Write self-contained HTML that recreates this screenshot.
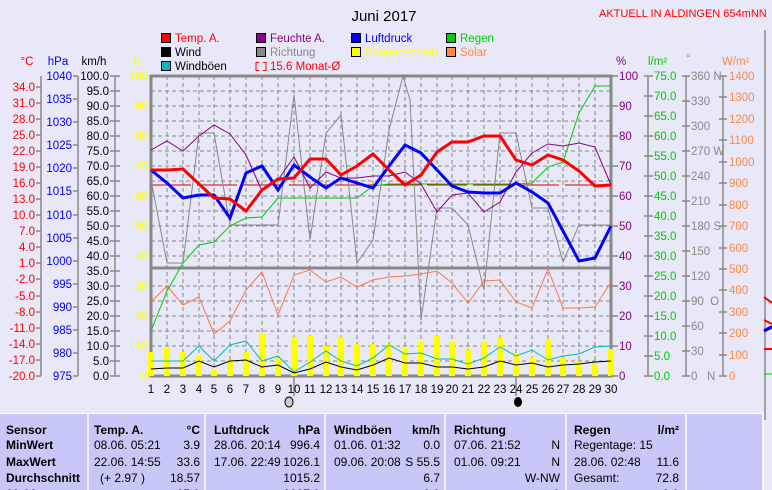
<!DOCTYPE html>
<html><head><meta charset="utf-8"><style>
body{margin:0;background:#e8e8f8;}
svg{display:block;font-family:"Liberation Sans",sans-serif;}
</style></head><body>
<svg width="772" height="490" viewBox="0 0 772 490" xmlns="http://www.w3.org/2000/svg">
<rect width="772" height="490" fill="#e8e8f8"/>
<text x="384" y="21" font-size="15" text-anchor="middle" fill="#000">Juni 2017</text>
<text x="599" y="17" font-size="11" fill="#f00">AKTUELL IN ALDINGEN 654mNN</text>
<!-- legend -->
<g font-size="11.5">
<rect x="161.5" y="33.5" width="9" height="9" fill="#f00" stroke="#000"/><text x="175" y="42" fill="#f00">Temp. A.</text>
<rect x="161.5" y="47.5" width="9" height="9" fill="#000" stroke="#000"/><text x="175" y="56" fill="#000">Wind</text>
<rect x="161.5" y="61.5" width="9" height="9" fill="#0bb" stroke="#000"/><text x="175" y="70" fill="#000">Windböen</text>
<rect x="256.5" y="33.5" width="9" height="9" fill="#808" stroke="#000"/><text x="270" y="42" fill="#808">Feuchte A.</text>
<rect x="256.5" y="47.5" width="9" height="9" fill="#888" stroke="#000"/><text x="270" y="56" fill="#888">Richtung</text>
<path d="M259 62.5h-3v8h3 M263 62.5h3v8h-3" stroke="#f00" fill="none"/><text x="270" y="70" fill="#f00">15.6 Monat-Ø</text>
<rect x="351.5" y="33.5" width="9" height="9" fill="#00f" stroke="#000"/><text x="365" y="42" fill="#00f">Luftdruck</text>
<rect x="351.5" y="47.5" width="9" height="9" fill="#ff0" stroke="#000"/><text x="365" y="56" fill="#ff0">Sonnenschein</text>
<rect x="446.5" y="33.5" width="9" height="9" fill="#0c0" stroke="#000"/><text x="460" y="42" fill="#0c0">Regen</text>
<rect x="446.5" y="47.5" width="9" height="9" fill="#f84" stroke="#000"/><text x="460" y="56" fill="#f84">Solar</text>
</g>
<!-- axis titles -->
<g font-size="11.5">
<text x="27" y="65" fill="#f00" text-anchor="middle">°C</text>
<text x="58" y="65" fill="#00f" text-anchor="middle">hPa</text>
<text x="94" y="65" fill="#000" text-anchor="middle">km/h</text>
<text x="137" y="65" fill="#ff0" text-anchor="middle">h</text>
<text x="616" y="65" fill="#808">%</text>
<text x="648" y="65" fill="#0c0">l/m²</text>
<text x="686" y="62" fill="#888">°</text>
<text x="722" y="65" fill="#f84">W/m²</text>
</g>
<!-- grid -->
<g stroke="#888" stroke-dasharray="4,3" stroke-width="1">
<path d="M151 91H611M151 106H611M151 121H611M151 136H611M151 151H611M151 166H611M151 181H611M151 196H611M151 211H611M151 226H611M151 241H611M151 256H611M151 286H611M151 301H611M151 316H611M151 331H611M151 346H611M151 361H611"/>
<path d="M167 76V376M183 76V376M199 76V376M214 76V376M230 76V376M246 76V376M262 76V376M278 76V376M294 76V376M310 76V376M326 76V376M341 76V376M357 76V376M373 76V376M389 76V376M405 76V376M421 76V376M437 76V376M452 76V376M468 76V376M484 76V376M500 76V376M516 76V376M532 76V376M548 76V376M563 76V376M579 76V376M595 76V376"/>
</g>
<path d="M151 76H611V376H151Z" fill="none" stroke="#888" stroke-width="3"/>
<path d="M151 268H611" stroke="#888" stroke-width="3"/>
<!-- sunshine bars -->
<g fill="#ff0">
<rect x="148" y="352" width="6" height="24"/><rect x="164" y="348" width="6" height="28"/><rect x="180" y="352" width="6" height="24"/><rect x="196" y="356" width="6" height="20"/><rect x="211" y="369" width="6" height="7"/><rect x="227" y="360" width="6" height="16"/><rect x="243" y="352" width="6" height="24"/><rect x="259" y="334" width="6" height="42"/><rect x="275" y="358" width="6" height="18"/><rect x="291" y="337" width="6" height="39"/><rect x="307" y="336" width="6" height="40"/><rect x="323" y="346" width="6" height="30"/><rect x="338" y="337" width="6" height="39"/><rect x="354" y="344" width="6" height="32"/><rect x="370" y="344" width="6" height="32"/><rect x="386" y="344" width="6" height="32"/><rect x="402" y="348" width="6" height="28"/><rect x="418" y="342" width="6" height="34"/><rect x="434" y="336" width="6" height="40"/><rect x="449" y="342" width="6" height="34"/><rect x="465" y="350" width="6" height="26"/><rect x="481" y="342" width="6" height="34"/><rect x="497" y="338" width="6" height="38"/><rect x="513" y="353" width="6" height="23"/><rect x="529" y="357" width="6" height="19"/><rect x="545" y="339" width="6" height="37"/><rect x="560" y="358" width="6" height="18"/><rect x="576" y="362" width="6" height="14"/><rect x="592" y="363" width="6" height="13"/><rect x="608" y="349" width="6" height="27"/>
</g>
<!-- monthly avg -->
<path d="M151 185H611" stroke="#d00" stroke-width="1" stroke-dasharray="40,6"/>
<!-- direction -->
<polyline fill="none" stroke="#888" stroke-width="1" points="151,180 167,263 183,263 199,133 214,133 230,225 246,225 262,225 278,225 294,95 310,240 326,133 341,115 357,263 373,240 389,130 403,76 410,100 421,320 437,208 452,208 468,225 484,290 500,133 516,133 532,208 548,208 563,262 579,225 595,225 611,225"/>
<!-- solar -->
<polyline fill="none" stroke="#f74" stroke-width="1" points="151,302 167,286 183,305 199,297 214,334 230,321 246,290 262,272 278,315 294,275 310,270 326,282 341,277 357,287 373,280 389,277 405,276 421,274 437,271 452,283 468,303 484,281 500,280 516,302 532,308 548,269 563,308 579,308 595,307 611,282"/>
<!-- rain -->
<polyline fill="none" stroke="#0c0" stroke-width="1" points="151,331 167,291 183,263 199,245 214,242 230,226 246,218 262,217 278,198 294,198 310,198 326,198 341,198 357,198 373,186 389,184 405,184 421,184 437,184 452,184 468,184 484,184 500,184 516,184 532,183 548,167 563,162 579,113 595,86 611,86"/>
<!-- humidity -->
<polyline fill="none" stroke="#808" stroke-width="1" points="151,150 167,141 183,151 199,136 214,125 230,134 246,155 262,191 278,180 294,157 310,188 326,172 341,178 357,178 373,176 389,176 405,172 421,184 437,212 452,195 468,193 484,212 500,202 516,172 532,153 548,144 563,146 579,143 595,147 611,185"/>
<!-- gusts / wind -->
<polyline fill="none" stroke="#0bb" stroke-width="1" points="151,361 167,361 183,361 199,346 214,361 230,345 246,341 262,361 278,356 294,372 310,362 326,351 341,361 357,366 373,358 389,345 405,354 421,353 437,359 452,359 468,364 484,358 500,347 516,356 532,350 548,360 563,356 579,354 595,347 611,346"/>
<polyline fill="none" stroke="#000" stroke-width="1" points="151,369 167,368 183,368 199,361 214,367 230,361 246,360 262,367 278,365 294,373 310,369 326,362 341,367 357,370 373,365 389,358 405,363 421,363 437,367 452,367 468,369 484,367 500,361 516,365 532,363 548,367 563,365 579,364 595,362 611,361"/>
<!-- pressure -->
<polyline fill="none" stroke="#00f" stroke-width="3" points="151,170 167,183 183,198 199,195 214,195 230,218 246,173 262,166 278,190 294,165 310,177 326,188 341,178 357,183 373,188 389,166 405,145 421,153 437,170 452,186 468,192 484,193 500,193 516,183 532,192 548,203 563,231 579,261 595,258 611,226"/>
<!-- temp -->
<polyline fill="none" stroke="#f00" stroke-width="3" points="151,170 167,170 183,169 199,184 214,198 230,199 246,211 262,190 278,179 294,178 310,159 326,159 341,175 357,166 373,154 389,170 405,185 421,175 437,152 452,142 468,142 484,136 500,136 516,160 532,165 548,155 563,160 579,171 595,186 611,185"/>
<!-- axis lines -->
<g stroke="#888" stroke-width="1.5" fill="none">
<path d="M41 76V376M78 76V376M115 76V376M648 76V376M686 76V376M723 76V376"/>
<path d="M36 87H41M36 103H41M36 119H41M36 135H41M36 151H41M36 167H41M36 183H41M36 199H41M36 215H41M36 231H41M36 247H41M36 263H41M36 279H41M36 296H41M36 312H41M36 328H41M36 344H41M36 360H41M36 376H41"/>
<path d="M73 76H78M73 99H78M73 122H78M73 145H78M73 168H78M73 191H78M73 215H78M73 238H78M73 261H78M73 284H78M73 307H78M73 330H78M73 353H78M73 376H78"/>
<path d="M110 76H120M110 91H120M110 106H120M110 121H120M110 136H120M110 151H120M110 166H120M110 181H120M110 196H120M110 211H120M110 226H120M110 241H120M110 256H120M110 271H120M110 286H120M110 301H120M110 316H120M110 331H120M110 346H120M110 361H120M110 376H120"/>
<path d="M611 76H618M611 106H618M611 136H618M611 166H618M611 196H618M611 226H618M611 256H618M611 286H618M611 316H618M611 346H618M611 376H618"/>
<path d="M644 76H653M644 96H653M644 116H653M644 136H653M644 156H653M644 176H653M644 196H653M644 216H653M644 236H653M644 256H653M644 276H653M644 296H653M644 316H653M644 336H653M644 356H653M644 376H653"/>
<path d="M682 76H690M682 101H690M682 126H690M682 151H690M682 176H690M682 201H690M682 226H690M682 251H690M682 276H690M682 301H690M682 326H690M682 351H690M682 376H690"/>
<path d="M719 76H727M719 97H727M719 119H727M719 140H727M719 162H727M719 183H727M719 205H727M719 226H727M719 248H727M719 269H727M719 290H727M719 312H727M719 333H727M719 355H727M719 376H727"/>
<path d="M765 30V420"/>
<path d="M294 376V396M516 376V396"/>
</g>
<g font-size="11.5">
<g fill="#f00" text-anchor="end">
<text x="35" y="91">34.0</text><text x="35" y="107">31.0</text><text x="35" y="123">28.0</text><text x="35" y="139">25.0</text><text x="35" y="155">22.0</text><text x="35" y="171">19.0</text><text x="35" y="187">16.0</text><text x="35" y="203">13.0</text><text x="35" y="219">10.0</text><text x="35" y="235">7.0</text><text x="35" y="251">4.0</text><text x="35" y="267">1.0</text><text x="35" y="283">-2.0</text><text x="35" y="300">-5.0</text><text x="35" y="316">-8.0</text><text x="35" y="332">-11.0</text><text x="35" y="348">-14.0</text><text x="35" y="364">-17.0</text><text x="35" y="380">-20.0</text>
</g>
<g fill="#00f" text-anchor="end">
<text x="72" y="80">1040</text><text x="72" y="103">1035</text><text x="72" y="126">1030</text><text x="72" y="149">1025</text><text x="72" y="172">1020</text><text x="72" y="195">1015</text><text x="72" y="219">1010</text><text x="72" y="242">1005</text><text x="72" y="265">1000</text><text x="72" y="288">995</text><text x="72" y="311">990</text><text x="72" y="334">985</text><text x="72" y="357">980</text><text x="72" y="380">975</text>
</g>
<g fill="#000" text-anchor="end">
<text x="109" y="80">100.0</text><text x="109" y="95">95.0</text><text x="109" y="110">90.0</text><text x="109" y="125">85.0</text><text x="109" y="140">80.0</text><text x="109" y="155">75.0</text><text x="109" y="170">70.0</text><text x="109" y="185">65.0</text><text x="109" y="200">60.0</text><text x="109" y="215">55.0</text><text x="109" y="230">50.0</text><text x="109" y="245">45.0</text><text x="109" y="260">40.0</text><text x="109" y="275">35.0</text><text x="109" y="290">30.0</text><text x="109" y="305">25.0</text><text x="109" y="320">20.0</text><text x="109" y="335">15.0</text><text x="109" y="350">10.0</text><text x="109" y="365">5.0</text><text x="109" y="380">0.0</text>
</g>
<g fill="#ff0" text-anchor="end">
<text x="148" y="80">100</text><text x="148" y="110">90</text><text x="148" y="140">80</text><text x="148" y="170">70</text><text x="148" y="200">60</text><text x="148" y="230">50</text><text x="148" y="260">40</text><text x="148" y="290">30</text><text x="148" y="320">20</text><text x="148" y="350">10</text><text x="148" y="380">0</text>
</g>
<g fill="#808">
<text x="619" y="80">100</text><text x="619" y="110">90</text><text x="619" y="140">80</text><text x="619" y="170">70</text><text x="619" y="200">60</text><text x="619" y="230">50</text><text x="619" y="260">40</text><text x="619" y="290">30</text><text x="619" y="320">20</text><text x="619" y="350">10</text><text x="619" y="380">0</text>
</g>
<g fill="#0c0">
<text x="654" y="80">75.0</text><text x="654" y="100">70.0</text><text x="654" y="120">65.0</text><text x="654" y="140">60.0</text><text x="654" y="160">55.0</text><text x="654" y="180">50.0</text><text x="654" y="200">45.0</text><text x="654" y="220">40.0</text><text x="654" y="240">35.0</text><text x="654" y="260">30.0</text><text x="654" y="280">25.0</text><text x="654" y="300">20.0</text><text x="654" y="320">15.0</text><text x="654" y="340">10.0</text><text x="654" y="360">5.0</text><text x="654" y="380">0.0</text>
</g>
<g fill="#888">
<text x="691" y="80">360 N</text><text x="691" y="105">330</text><text x="691" y="130">300</text><text x="691" y="155">270 W</text><text x="691" y="180">240</text><text x="691" y="205">210</text><text x="691" y="230">180 S</text><text x="691" y="255">150</text><text x="691" y="280">120</text><text x="691" y="305">90&#160;&#160;O</text><text x="691" y="330">60</text><text x="691" y="355">30</text><text x="691" y="380">0&#160;&#160;&#160;N</text>
</g>
<g fill="#f84">
<text x="729" y="80">1400</text><text x="729" y="101">1300</text><text x="729" y="123">1200</text><text x="729" y="144">1100</text><text x="729" y="166">1000</text><text x="729" y="187">900</text><text x="729" y="209">800</text><text x="729" y="230">700</text><text x="729" y="252">600</text><text x="729" y="273">500</text><text x="729" y="294">400</text><text x="729" y="316">300</text><text x="729" y="337">200</text><text x="729" y="359">100</text><text x="729" y="380">0</text>
</g>
<g fill="#000" text-anchor="middle">
<text x="151" y="393">1</text><text x="167" y="393">2</text><text x="183" y="393">3</text><text x="199" y="393">4</text><text x="214" y="393">5</text><text x="230" y="393">6</text><text x="246" y="393">7</text><text x="262" y="393">8</text><text x="278" y="393">9</text><text x="294" y="393">10</text><text x="310" y="393">11</text><text x="326" y="393">12</text><text x="341" y="393">13</text><text x="357" y="393">14</text><text x="373" y="393">15</text><text x="389" y="393">16</text><text x="405" y="393">17</text><text x="421" y="393">18</text><text x="437" y="393">19</text><text x="452" y="393">20</text><text x="468" y="393">21</text><text x="484" y="393">22</text><text x="500" y="393">23</text><text x="516" y="393">24</text><text x="532" y="393">25</text><text x="548" y="393">26</text><text x="563" y="393">27</text><text x="579" y="393">28</text><text x="595" y="393">29</text><text x="611" y="393">30</text>
</g>
</g>
<ellipse cx="289" cy="402" rx="4" ry="5" fill="#ccc" stroke="#000"/>
<ellipse cx="518" cy="402" rx="4" ry="5" fill="#000"/>
<!-- right clipped fragments -->
<path d="M764 297l8 6M764 320l8 4M764 330l8 -4M764 349h8" stroke="#f00" stroke-width="2" fill="none"/>
<path d="M764 331l8 -4" stroke="#00f" stroke-width="3"/>
<path d="M764 374h8" stroke="#0c0" stroke-width="1"/>
<!-- table -->
<rect x="0" y="413" width="763" height="77" fill="#c8c8f8"/>
<path d="M0 413.5H763" stroke="#fff"/>
<g stroke="#fff" stroke-width="1.5"><path d="M88 413V490M205 413V490M325 413V490M445 413V490M566 413V490M686 413V490M763 413V490"/></g>
<g font-size="12" fill="#000">
<g font-weight="bold"><text x="6" y="434">Sensor</text><text x="6" y="449">MinWert</text><text x="6" y="466">MaxWert</text><text x="6" y="482">Durchschnitt</text>
<text x="94" y="434">Temp. A.</text><text x="200" y="434" text-anchor="end">°C</text>
<text x="214" y="434">Luftdruck</text><text x="320" y="434" text-anchor="end">hPa</text>
<text x="334" y="434">Windböen</text><text x="440" y="434" text-anchor="end">km/h</text>
<text x="454" y="434">Richtung</text>
<text x="574" y="434">Regen</text><text x="679" y="434" text-anchor="end">l/m²</text>
<text x="6" y="498">00:00</text><text x="200" y="498" text-anchor="end">15.0</text><text x="320" y="498" text-anchor="end">1007.0</text><text x="440" y="498" text-anchor="end">0.0</text><text x="560" y="498" text-anchor="end">0</text><text x="679" y="498" text-anchor="end">0.0</text></g>
<text x="94" y="449">08.06.  05:21</text><text x="200" y="449" text-anchor="end">3.9</text>
<text x="94" y="466">22.06.  14:55</text><text x="200" y="466" text-anchor="end">33.6</text>
<text x="100" y="482">(+ 2.97 )</text><text x="200" y="482" text-anchor="end">18.57</text>
<text x="214" y="449">28.06.  20:14</text><text x="320" y="449" text-anchor="end">996.4</text>
<text x="214" y="466">17.06.  22:49</text><text x="320" y="466" text-anchor="end">1026.1</text>
<text x="320" y="482" text-anchor="end">1015.2</text>
<text x="334" y="449">01.06.  01:32</text><text x="440" y="449" text-anchor="end">0.0</text>
<text x="334" y="466">09.06.  20:08</text><text x="440" y="466" text-anchor="end">S 55.5</text>
<text x="440" y="482" text-anchor="end">6.7</text>
<text x="454" y="449">07.06.  21:52</text><text x="560" y="449" text-anchor="end">N</text>
<text x="454" y="466">01.06.  09:21</text><text x="560" y="466" text-anchor="end">N</text>
<text x="560" y="482" text-anchor="end">W-NW</text>
<text x="574" y="449">Regentage: 15</text>
<text x="574" y="466">28.06.  02:48</text><text x="679" y="466" text-anchor="end">11.6</text>
<text x="574" y="482">Gesamt:</text><text x="679" y="482" text-anchor="end">72.8</text>
</g>
</svg>
</body></html>
